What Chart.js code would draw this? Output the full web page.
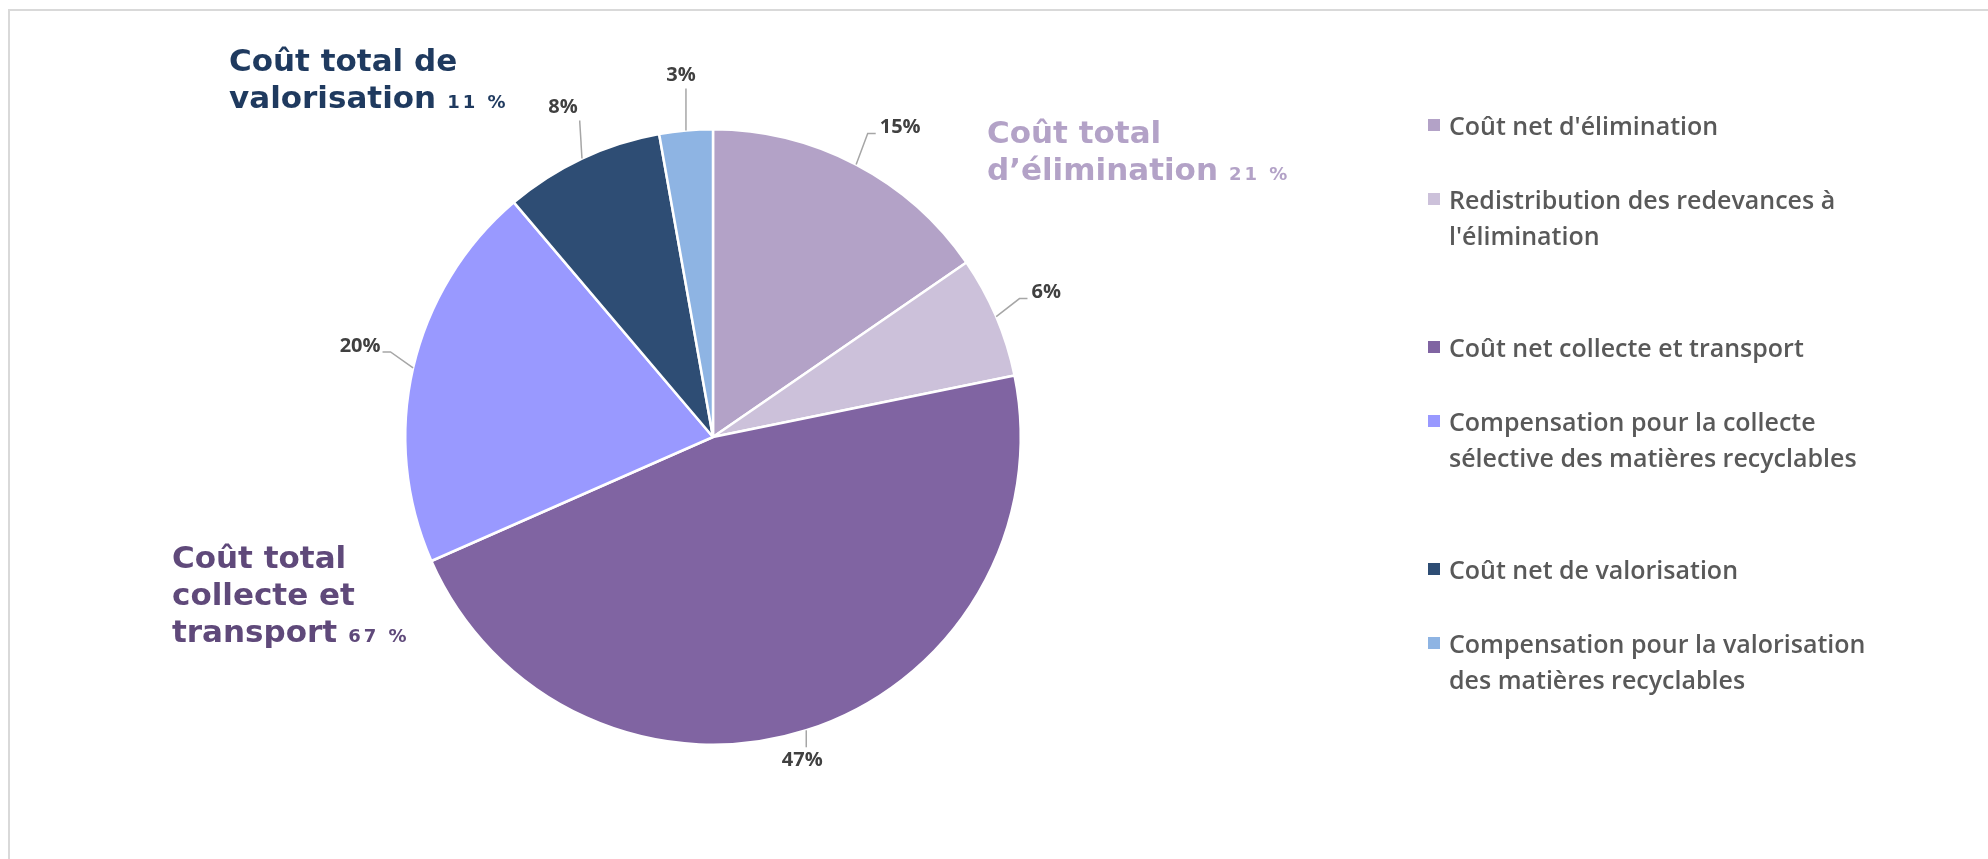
<!DOCTYPE html>
<html lang="fr">
<head>
<meta charset="utf-8">
<title>Répartition des coûts</title>
<script src="https://cdn.jsdelivr.net/npm/chart.js@4.4.1/dist/chart.umd.min.js"></script>
<style>
  html, body { margin: 0; padding: 0; background: #fff; }
  #wrap { position: relative; width: 1988px; height: 859px; }
</style>
</head>
<body>
<div id="wrap"><canvas id="coutsChart"></canvas></div>
<script>
const categories = [
  "Coût net d'élimination",
  ["Redistribution des redevances à", "l'élimination"],
  "Coût net collecte et transport",
  ["Compensation pour la collecte", "sélective des matières recyclables"],
  "Coût net de valorisation",
  ["Compensation pour la valorisation", "des matières recyclables"]
];
const parts = [15.4, 6.4, 46.6, 20.4, 8.4, 2.8];
const sliceColors = ['#B3A2C7', '#CCC1DA', '#8064A2', '#9999FF', '#2E4D74', '#8EB4E3'];

const groupNames = [
  ['Coût total', 'd’élimination'],
  ['Coût total', 'collecte et', 'transport'],
  ['Coût total de', 'valorisation']
];
const groupTotals = [21, 67, 11];
const groupColors = ['#B3A2C7', '#5F497A', '#1F3A5F'];

// cadre gris clair (haut + gauche)
const framePlugin = {
  id: 'frame',
  beforeDraw(chart) {
    const ctx = chart.ctx;
    ctx.save();
    ctx.fillStyle = '#fff';
    ctx.fillRect(0, 0, chart.width, chart.height);
    ctx.strokeStyle = '#D9D9D9';
    ctx.lineWidth = 2;
    ctx.beginPath();
    ctx.moveTo(9, chart.height);
    ctx.lineTo(9, 10);
    ctx.lineTo(chart.width, 10);
    ctx.stroke();
    ctx.restore();
  }
};

// étiquettes de pourcentage avec lignes de rappel
const pctLabels = {
  id: 'pctLabels',
  afterDatasetsDraw(chart, args, opts) {
    const ctx = chart.ctx;
    const meta = chart.getDatasetMeta(0);
    ctx.save();
    ctx.font = opts.font;
    ctx.textAlign = 'center';
    ctx.textBaseline = 'middle';
    meta.data.forEach((arc, i) => {
      const p = arc.getProps(['x', 'y', 'startAngle', 'endAngle', 'outerRadius'], true);
      const mid = (p.startAngle + p.endAngle) / 2;
      const ax = p.x + Math.cos(mid) * p.outerRadius;
      const ay = p.y + Math.sin(mid) * p.outerRadius;
      const [sx, sy] = opts.shift[i];
      const cx = ax + sx, cy = ay + sy;
      const text = Math.round(parts[i]) + '%';
      const w = ctx.measureText(text).width;

      ctx.strokeStyle = opts.lineColor;
      ctx.lineWidth = 1.5;
      ctx.beginPath();
      ctx.moveTo(ax, ay);
      if (opts.elbow[i]) {
        const right = cx > ax;
        const ex = right ? cx - w / 2 - 4 : cx + w / 2 + 2;
        const ey = cy + 6;
        ctx.lineTo(right ? ex - 8 : ex + 8, ey);
        ctx.lineTo(ex, ey);
      } else {
        const bx = Math.min(Math.max(ax, cx - w / 2 - 2), cx + w / 2 + 2);
        const by = Math.min(Math.max(ay, cy - 13), cy + 13);
        ctx.lineTo(bx, by);
      }
      ctx.stroke();

      ctx.fillStyle = opts.color;
      ctx.fillText(text, cx, cy);
    });
    ctx.restore();
  }
};

// grands libellés des totaux par groupe
const groupText = {
  id: 'groupText',
  afterDraw(chart, args, opts) {
    const ctx = chart.ctx;
    ctx.save();
    ctx.textAlign = 'left';
    ctx.textBaseline = 'alphabetic';
    groupNames.forEach((lines, g) => {
      const [x, y] = opts.anchors[g];
      ctx.fillStyle = groupColors[g];
      ctx.font = opts.font;
      ctx.letterSpacing = '0px';
      lines.forEach((line, k) => ctx.fillText(line, x, y + k * opts.lineHeight));
      const lastY = y + (lines.length - 1) * opts.lineHeight;
      const lastW = ctx.measureText(lines[lines.length - 1]).width;
      ctx.font = opts.smallFont;
      ctx.letterSpacing = '3px';
      ctx.fillText(groupTotals[g] + ' %', x + lastW + 11, lastY);
    });
    ctx.restore();
  }
};

// légende à droite
const sideLegend = {
  id: 'sideLegend',
  afterDraw(chart, args, opts) {
    const ctx = chart.ctx;
    ctx.save();
    ctx.font = opts.font;
    ctx.textAlign = 'left';
    ctx.textBaseline = 'middle';
    let y = opts.top;
    categories.forEach((cat, i) => {
      const lines = Array.isArray(cat) ? cat : [cat];
      ctx.fillStyle = sliceColors[i];
      ctx.fillRect(opts.left, y - 9, 12, 12);
      ctx.fillStyle = opts.color;
      lines.forEach((line, k) => ctx.fillText(line, opts.left + 21, y + k * opts.lineHeight));
      y += lines.length * opts.slot;
    });
    ctx.restore();
  }
};

const ctx = document.getElementById('coutsChart').getContext('2d');

new Chart(ctx, {
  type: 'pie',
  data: {
    labels: categories,
    datasets: [{
      data: parts,
      backgroundColor: sliceColors,
      borderColor: '#FFFFFF',
      borderWidth: 2.5
    }]
  },
  options: {
    responsive: true,
    maintainAspectRatio: false,
    animation: false,
    layout: {
      padding: { left: 404, right: 966, top: 128, bottom: 113 }
    },
    plugins: {
      legend: { display: false },
      tooltip: { enabled: false },
      pctLabels: {
        font: 'bold 20px "Open Sans"',
        color: '#404040',
        lineColor: '#A6A6A6',
        shift: [[44, -37], [50, -24], [-4, 30], [-53, -22], [-19, -51], [-5, -55]],
        elbow: [true, true, false, true, false, false]
      },
      groupText: {
        font: 'bold 31px "DejaVu Sans"',
        smallFont: 'bold 18px "DejaVu Sans"',
        lineHeight: 37,
        anchors: [[987, 143], [172, 568], [229, 71]]
      },
      sideLegend: {
        font: '600 25px "Open Sans"',
        color: '#595959',
        left: 1428,
        top: 128,
        lineHeight: 36,
        slot: 74
      }
    }
  },
  plugins: [framePlugin, pctLabels, groupText, sideLegend]
});
</script>
</body>
</html>
